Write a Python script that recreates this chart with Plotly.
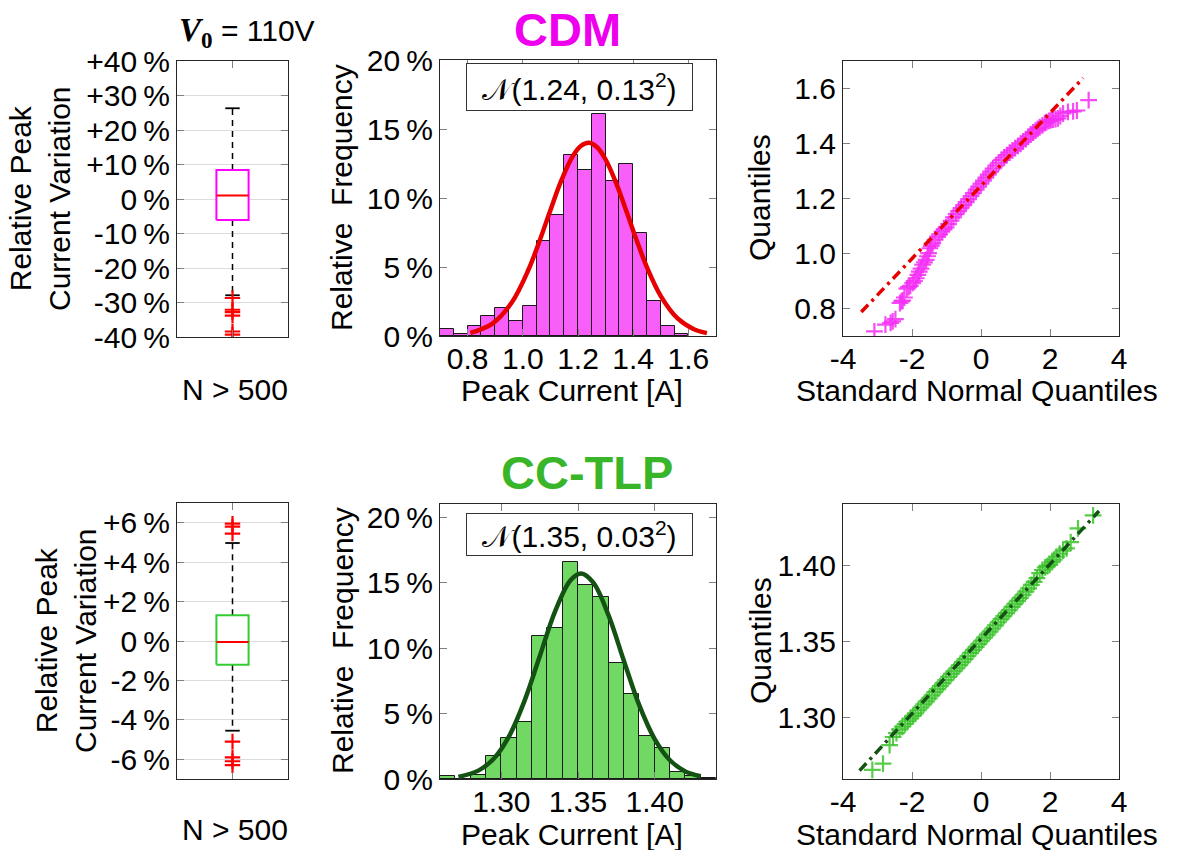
import plotly.graph_objects as go

W, H = 1182, 850
FONT = "Arial, Liberation Sans, sans-serif"

# ---------------- DATA ----------------
# Box plot statistics (relative peak current variation, %)
cdm_box = dict(q1=-6.1, median=1.0, q3=8.4, lower=-27.9, upper=26.3)
cdm_outliers = [-28.7, -32.1, -32.8, -33.8, -38.4, -39.3]
tlp_box = dict(q1=-1.2, median=-0.05, q3=1.3, lower=-4.55, upper=4.97)
tlp_outliers = [5.95, 5.8, 5.45, -5.1, -5.9, -6.1, -6.3]

# Histograms (relative frequency, %)
cdm_bin_start = 0.70
cdm_bin_width = 0.05
cdm_freq = [0.53, 0.15, 0.73, 1.46, 2.0, 1.1, 2.2, 6.9, 8.76, 13.1, 12.0, 16.1,
            11.2, 12.5, 7.5, 2.57, 0.73, 0.15]
tlp_bin_start = 1.26
tlp_bin_width = 0.01
tlp_freq = [0.23, 0.0, 0.28, 1.76, 3.13, 4.35, 10.9, 11.5, 16.6, 14.8, 13.9, 8.86,
            6.46, 3.26, 2.37, 0.53, 0.2, 0.1]

# Fitted normal curves
cdm_fit_x = [0.81, 0.89, 0.96, 1.02, 1.06, 1.10, 1.14, 1.18, 1.21, 1.24, 1.27, 1.30,
             1.34, 1.38, 1.41, 1.45, 1.50, 1.56, 1.62, 1.667]
cdm_fit_y = [0.22, 0.90, 2.43, 4.78, 6.85, 9.12, 11.29, 13.0, 13.77, 14.0, 13.66, 12.79,
             10.99, 8.78, 7.07, 4.97, 2.89, 1.29, 0.49, 0.21]
tlp_fit_x = [1.272, 1.285, 1.295, 1.305, 1.315, 1.325, 1.335, 1.345, 1.352, 1.360,
             1.370, 1.380, 1.390, 1.400, 1.410, 1.420, 1.430]
tlp_fit_y = [0.16, 0.64, 1.55, 3.26, 5.93, 9.35, 12.78, 15.16, 15.7, 15.0,
             12.47, 8.99, 5.62, 3.05, 1.43, 0.58, 0.21]

cdm_label = "𝒩(1.24, 0.13<sup>2</sup>)"
tlp_label = "𝒩(1.35, 0.03<sup>2</sup>)"

# QQ plots: standard normal quantiles vs sample quantiles
cdm_qq_x = [-3.09, -2.77, -2.62, -2.56, -2.48, -2.35, -2.30, -2.27, -2.22, -2.15, -2.10,
            -2.05, -1.98, -1.93, -1.88, -1.83, -1.79, -1.74, -1.69, -1.64, -1.59, -1.55,
            -1.52, -1.48, -1.44, -1.40, -1.33, -1.26, -1.20, -1.13, -1.07, -1.01, -0.94,
            -0.87, -0.80, -0.72, -0.65, -0.58, -0.50, -0.43, -0.36, -0.29, -0.22, -0.14,
            -0.07, 0.00, 0.07, 0.14, 0.21, 0.28, 0.35, 0.43, 0.51, 0.59, 0.67, 0.75,
            0.83, 0.91, 0.99, 1.07, 1.15, 1.22, 1.30, 1.37, 1.44, 1.51, 1.58, 1.64,
            1.70, 1.78, 1.85, 1.90, 1.97, 2.03, 2.09, 2.16, 2.23, 2.30, 2.38, 2.52,
            2.67, 2.78, 3.12]
cdm_qq_y = [0.717, 0.741, 0.748, 0.753, 0.761, 0.820, 0.826, 0.829, 0.840, 0.872, 0.878,
            0.882, 0.892, 0.900, 0.910, 0.922, 0.934, 0.945, 0.959, 0.968, 0.977, 0.990,
            1.001, 1.019, 1.028, 1.037, 1.050, 1.061, 1.070, 1.080, 1.088, 1.095, 1.107,
            1.119, 1.131, 1.143, 1.154, 1.165, 1.176, 1.187, 1.198, 1.209, 1.220, 1.232,
            1.243, 1.254, 1.265, 1.276, 1.287, 1.298, 1.309, 1.320, 1.330, 1.340, 1.349,
            1.358, 1.367, 1.375, 1.383, 1.391, 1.399, 1.407, 1.416, 1.425, 1.433, 1.440,
            1.447, 1.453, 1.459, 1.466, 1.474, 1.478, 1.482, 1.485, 1.487, 1.489, 1.491,
            1.500, 1.509, 1.515, 1.517, 1.520, 1.558]
cdm_ref_x = [-3.47, 2.96]
cdm_ref_y = [0.787, 1.638]

tlp_qq_x = [-3.15, -2.84, -2.65, -2.55, -2.45, -2.36, -2.28, -2.20, -2.12, -2.05, -1.97,
            -1.90, -1.82, -1.74, -1.66, -1.58, -1.50, -1.42, -1.34, -1.26, -1.18, -1.10,
            -1.02, -0.94, -0.86, -0.78, -0.70, -0.62, -0.54, -0.46, -0.38, -0.30, -0.22,
            -0.14, -0.06, 0.02, 0.10, 0.18, 0.26, 0.34, 0.42, 0.50, 0.58, 0.66, 0.74,
            0.82, 0.90, 0.98, 1.06, 1.14, 1.22, 1.30, 1.38, 1.46, 1.54, 1.62, 1.70,
            1.78, 1.86, 1.93, 1.99, 2.06, 2.12, 2.19, 2.28, 2.38, 2.48, 2.60, 2.81, 3.25]
tlp_qq_y = [1.2660, 1.2700, 1.2822, 1.2875, 1.2900, 1.2925, 1.2942, 1.2960, 1.2978, 1.2995,
            1.3013, 1.3030, 1.3050, 1.3068, 1.3088, 1.3108, 1.3128, 1.3148, 1.3168, 1.3188,
            1.3208, 1.3228, 1.3248, 1.3268, 1.3288, 1.3306, 1.3325, 1.3345, 1.3365, 1.3385,
            1.3405, 1.3425, 1.3445, 1.3465, 1.3485, 1.3505, 1.3525, 1.3545, 1.3565, 1.3585,
            1.3605, 1.3626, 1.3646, 1.3666, 1.3686, 1.3706, 1.3726, 1.3746, 1.3766, 1.3786,
            1.3806, 1.3826, 1.3848, 1.3870, 1.3890, 1.3915, 1.3947, 1.3968, 1.3985, 1.3995,
            1.4002, 1.4020, 1.4035, 1.4055, 1.4075, 1.4095, 1.4110, 1.4150, 1.4240, 1.4326]
tlp_ref_x = [-3.52, 3.42]
tlp_ref_y = [1.2655, 1.4354]

PCT = "\u2009%"
cdm_box_ticks = [-40, -30, -20, -10, 0, 10, 20, 30, 40]
cdm_box_ticktext = ["-40", "-30", "-20", "-10", "0", "+10", "+20", "+30", "+40"]
tlp_box_ticks = [-6, -4, -2, 0, 2, 4, 6]
tlp_box_ticktext = ["-6", "-4", "-2", "0", "+2", "+4", "+6"]
hist_yticks = [0, 5, 10, 15, 20]
hist_yticktext = ["0", "5", "10", "15", "20"]

# ---------------- STYLE ----------------
MAGENTA = "#ff00ff"
CDM_TITLE = "#ee00ee"
TLP_TITLE = "#39b52a"
CDM_BAR = "#f85ef8"
TLP_BAR = "#72d864"
RED = "#e60000"
DKGREEN = "#145214"
TLP_BOX = "#33cc33"
CDM_MARK = "rgba(245,45,245,0.85)"
TLP_MARK = "rgba(60,195,45,0.85)"

FS = 30
TICKFONT = dict(family=FONT, size=FS, color="black")


def px_x(p):
    return p / W


def px_y(p):
    return 1 - p / H


fig = go.Figure()

panels = {
    1: ((177, 288), (61, 337)),    # CDM box
    2: ((440, 716), (60, 336)),    # CDM hist
    3: ((843, 1119), (61, 336)),   # CDM QQ
    4: ((177, 288), (503, 779)),   # TLP box
    5: ((440, 716), (504, 779)),   # TLP hist
    6: ((843, 1119), (504, 779)),  # TLP QQ
}


def axname(i, kind):
    return f"{kind}axis" if i == 1 else f"{kind}axis{i}"


def ref(i, kind):
    return kind if i == 1 else f"{kind}{i}"


base_axis = dict(showline=True, linecolor="#262626", linewidth=1.3, mirror="ticks",
                 ticks="inside", ticklen=7, tickcolor="#808080", tickwidth=1,
                 tickfont=TICKFONT, zeroline=False, showgrid=False, automargin=False)

layout_axes = {}
for i, ((x0, x1), (y0, y1)) in panels.items():
    layout_axes[axname(i, "x")] = dict(base_axis, domain=[px_x(x0), px_x(x1)],
                                       anchor=ref(i, "y"), ticklabelstandoff=-4)
    layout_axes[axname(i, "y")] = dict(base_axis, domain=[px_y(y1), px_y(y0)],
                                       anchor=ref(i, "x"))


# ---------- box plots ----------
def add_box(i, stats, outliers, boxcolor):
    xr, yr = ref(i, "x"), ref(i, "y")
    hw, cw = 0.29, 0.13
    fig.add_trace(go.Scatter(x=[0, 0, None, 0, 0],
                             y=[stats["q3"], stats["upper"], None, stats["q1"], stats["lower"]],
                             mode="lines", line=dict(color="black", width=1.5, dash="6px,5px"),
                             xaxis=xr, yaxis=yr, showlegend=False))
    fig.add_trace(go.Scatter(x=[-cw, cw, None, -cw, cw],
                             y=[stats["upper"], stats["upper"], None, stats["lower"], stats["lower"]],
                             mode="lines", line=dict(color="black", width=1.8),
                             xaxis=xr, yaxis=yr, showlegend=False))
    fig.add_trace(go.Scatter(x=[-hw, hw, hw, -hw, -hw],
                             y=[stats["q1"], stats["q1"], stats["q3"], stats["q3"], stats["q1"]],
                             mode="lines", line=dict(color=boxcolor, width=2),
                             fill="toself", fillcolor="white",
                             xaxis=xr, yaxis=yr, showlegend=False))
    fig.add_trace(go.Scatter(x=[-hw, hw], y=[stats["median"], stats["median"]],
                             mode="lines", line=dict(color="#ff0000", width=2),
                             xaxis=xr, yaxis=yr, showlegend=False))
    fig.add_trace(go.Scatter(x=[0] * len(outliers), y=outliers, mode="markers",
                             marker=dict(symbol="cross-thin-open", size=11, color="#ff0000",
                                         line=dict(width=2.2)),
                             xaxis=xr, yaxis=yr, showlegend=False))


add_box(1, cdm_box, cdm_outliers, MAGENTA)
add_box(4, tlp_box, tlp_outliers, TLP_BOX)

for i, rng, tv, tt in [(1, [-40, 40], cdm_box_ticks, cdm_box_ticktext),
                       (4, [-7, 7], tlp_box_ticks, tlp_box_ticktext)]:
    layout_axes[axname(i, "x")].update(range=[-1, 1], tickvals=[0], showticklabels=False)
    layout_axes[axname(i, "y")].update(range=rng, tickvals=tv, ticktext=[t + PCT for t in tt],
                                       showgrid=True, gridcolor="#dcdcdc", gridwidth=1)


# ---------- histograms ----------
def add_hist(i, start, width, freq, color, fx, fy, fcolor):
    xr, yr = ref(i, "x"), ref(i, "y")
    centers = [start + width * (k + 0.5) for k in range(len(freq))]
    fig.add_trace(go.Bar(x=centers, y=freq, width=[width] * len(freq),
                         marker=dict(color=color, line=dict(color="#1a1a1a", width=1)),
                         xaxis=xr, yaxis=yr, showlegend=False))
    fig.add_trace(go.Scatter(x=fx, y=fy, mode="lines", line_shape="spline",
                             line=dict(color=fcolor, width=4.5),
                             xaxis=xr, yaxis=yr, showlegend=False))


add_hist(2, cdm_bin_start, cdm_bin_width, cdm_freq, CDM_BAR, cdm_fit_x, cdm_fit_y, RED)
add_hist(5, tlp_bin_start, tlp_bin_width, tlp_freq, TLP_BAR, tlp_fit_x, tlp_fit_y, DKGREEN)

hist_tt = [t + PCT for t in hist_yticktext]
layout_axes["xaxis2"].update(range=[0.7, 1.7], tickvals=[0.8, 1.0, 1.2, 1.4, 1.6],
                             ticktext=["0.8", "1.0", "1.2", "1.4", "1.6"])
layout_axes["yaxis2"].update(range=[0, 20], tickvals=hist_yticks, ticktext=hist_tt)
layout_axes["xaxis5"].update(range=[1.26, 1.44], tickvals=[1.30, 1.35, 1.40],
                             ticktext=["1.30", "1.35", "1.40"])
layout_axes["yaxis5"].update(range=[0, 21], tickvals=hist_yticks, ticktext=hist_tt)


# ---------- QQ plots ----------
def add_qq(i, qx, qy, mcolor, rx, ry, lcolor):
    xr, yr = ref(i, "x"), ref(i, "y")
    fig.add_trace(go.Scatter(x=qx, y=qy, mode="markers",
                             marker=dict(symbol="cross-thin-open", size=12, color=mcolor,
                                         line=dict(width=2.2)),
                             xaxis=xr, yaxis=yr, showlegend=False))
    fig.add_trace(go.Scatter(x=rx, y=ry, mode="lines",
                             line=dict(color=lcolor, width=3.5, dash="10px,5px,3px,5px"),
                             xaxis=xr, yaxis=yr, showlegend=False))


add_qq(3, cdm_qq_x, cdm_qq_y, CDM_MARK, cdm_ref_x, cdm_ref_y, RED)
add_qq(6, tlp_qq_x, tlp_qq_y, TLP_MARK, tlp_ref_x, tlp_ref_y, DKGREEN)

for i in (3, 6):
    layout_axes[axname(i, "x")].update(range=[-4, 4], tickvals=[-4, -2, 0, 2, 4],
                                       ticktext=["-4", "-2", "0", "2", "4"])
layout_axes["yaxis3"].update(range=[0.7, 1.7], tickvals=[0.8, 1.0, 1.2, 1.4, 1.6],
                             ticktext=["0.8", "1.0", "1.2", "1.4", "1.6"])
layout_axes["yaxis6"].update(range=[1.26, 1.44], tickvals=[1.30, 1.35, 1.40],
                             ticktext=["1.30", "1.35", "1.40"])

# ---------------- annotations ----------------
ann = []


def text(x, y, s, size=FS, angle=0, color="black", bold=False, **kw):
    if bold:
        s = f"<b>{s}</b>"
    d = dict(x=px_x(x), y=px_y(y), xref="paper", yref="paper", text=s, showarrow=False,
             textangle=angle, font=dict(family=FONT, size=size, color=color),
             xanchor="center", yanchor="middle")
    d.update(kw)
    ann.append(d)


text(567, 29, "CDM", size=47, color=CDM_TITLE, bold=True)
text(587, 472, "CC-TLP", size=47, color=TLP_TITLE, bold=True)
text(247, 33,
     "<span style='font-family:Liberation Serif, Times New Roman, serif;font-size:33px'>"
     "<b><i>V</i></b><sub><b>0</b></sub></span> = 110V", size=FS)

for yc, xc in [(199, 40), (641, 66)]:
    text(xc, yc, "Relative Peak<br>Current Variation", angle=-90)
for yc in (198, 641):
    text(342, yc, "Relative\u00a0\u00a0Frequency", angle=-90)
    text(760, yc, "Quantiles", angle=-90)
for yc in (391, 834):
    text(572, yc, "Peak Current [A]")
    text(977, yc, "Standard Normal Quantiles")
text(235, 389, "N > 500")
text(235, 829, "N > 500")

for yc, hh, lab in [(87, 46, cdm_label), (534.5, 41, tlp_label)]:
    ann.append(dict(x=px_x(579.5), y=px_y(yc), xref="paper", yref="paper", text=lab,
                    showarrow=False, font=dict(family=FONT, size=FS, color="black"),
                    bordercolor="#333333", borderwidth=1, bgcolor="white",
                    width=225, height=hh, xanchor="center", yanchor="middle", borderpad=0))

fig.update_layout(width=W, height=H, autosize=False,
                  margin=dict(l=0, r=0, t=0, b=0, pad=0, autoexpand=False),
                  paper_bgcolor="white", plot_bgcolor="white",
                  bargap=0, annotations=ann, **layout_axes)

fig.write_html("out.html", config={"displayModeBar": False},
               post_script="document.body.style.margin='0';document.body.style.overflow='hidden';")
